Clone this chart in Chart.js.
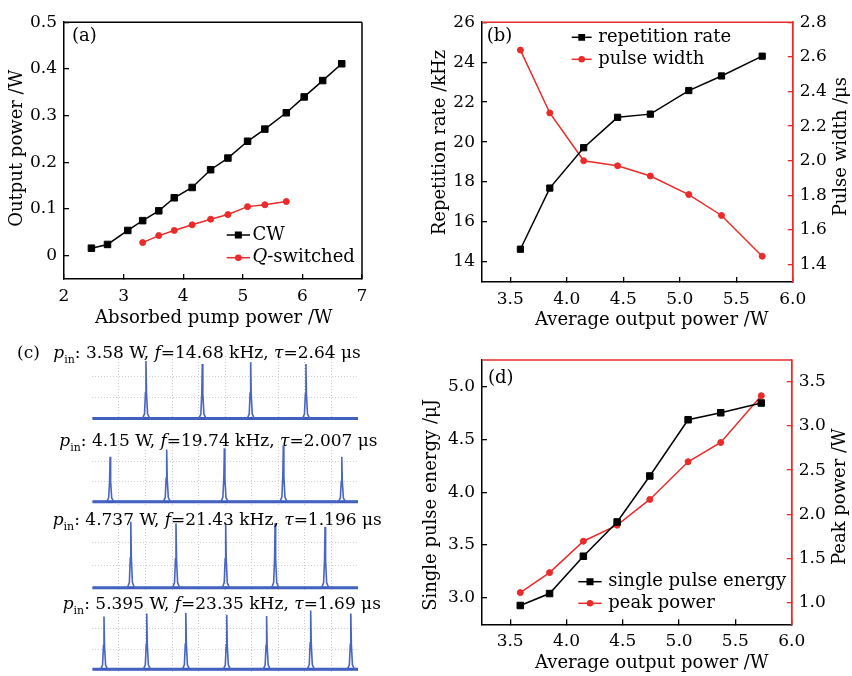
<!DOCTYPE html>
<html>
<head>
<meta charset="utf-8">
<script src="https://cdn.jsdelivr.net/npm/chart.js@4.4.1/dist/chart.umd.min.js"></script>
<style>
  body { margin: 0; background: #fff; }
  #wrap { position: relative; width: 852px; height: 676px; overflow: hidden; font-family: "DejaVu Serif", serif; }
  #wrap canvas { position: absolute; left: 0; top: 0; }
  .hdr { position: absolute; font-size: 17px; line-height: 20px; white-space: nowrap; color: #000; }
  .hdr sub { font-size: 11px; vertical-align: baseline; position: relative; top: 5px; font-style: normal; }
</style>
</head>
<body>
<div id="wrap"></div>
<script>
// (a) output power vs absorbed pump power
const pumpCW = [2.46, 2.73, 3.07, 3.32, 3.59, 3.85, 4.15, 4.46, 4.75, 5.08, 5.37, 5.73, 6.03, 6.34, 6.66];
const outCW = [0.016, 0.024, 0.054, 0.075, 0.096, 0.124, 0.146, 0.184, 0.209, 0.245, 0.271, 0.306, 0.340, 0.375, 0.411];
const pumpQ = [3.32, 3.59, 3.85, 4.15, 4.46, 4.75, 5.08, 5.37, 5.73];
const outQ = [0.028, 0.043, 0.054, 0.066, 0.078, 0.088, 0.105, 0.109, 0.116];

// (b) and (d) share the x values
const avgPower = [3.59, 3.85, 4.15, 4.45, 4.74, 5.08, 5.37, 5.73];
const repRate = [14.64, 17.70, 19.72, 21.24, 21.40, 22.58, 23.31, 24.30];
const pulseWidth = [2.639, 2.276, 2.000, 1.971, 1.912, 1.805, 1.684, 1.449];
const pulseEnergy = [2.928, 3.041, 3.394, 3.718, 4.153, 4.685, 4.751, 4.843];
const peakPower = [1.110, 1.337, 1.693, 1.875, 2.167, 2.595, 2.814, 3.345];

// tick labels
const ticksPump = [2, 3, 4, 5, 6, 7];
const ticksOut = [0, 0.1, 0.2, 0.3, 0.4, 0.5];
const ticksAvg = [3.5, 4.0, 4.5, 5.0, 5.5, 6.0];
const ticksRate = [14, 16, 18, 20, 22, 24, 26];
const ticksWidth = [1.4, 1.6, 1.8, 2.0, 2.2, 2.4, 2.6, 2.8];
const ticksEnergy = [3.0, 3.5, 4.0, 4.5, 5.0];
const ticksPeak = [1.0, 1.5, 2.0, 2.5, 3.0, 3.5];

// (c) oscilloscope traces: pulse positions (% of screen) and relative heights
const trace1Peaks = [20.2, 41.4, 59.6, 80.4];
const trace1Heights = [0.92, 0.87, 0.90, 0.87];
const trace2Peaks = [6.7, 28.0, 49.7, 71.9, 93.9];
const trace2Heights = [0.74, 0.86, 0.88, 0.93, 0.74];
const trace3Peaks = [14.5, 31.5, 50.2, 68.8, 87.6];
const trace3Heights = [0.975, 0.95, 0.95, 0.95, 0.90];
const trace4Peaks = [4.4, 20.5, 35.2, 50.6, 65.6, 82.2, 97.3];
const trace4Heights = [0.86, 0.91, 0.92, 0.89, 0.87, 0.96, 0.91];
const tracePin = ['3.58', '4.15', '4.737', '5.395'];
const traceF = ['14.68', '19.74', '21.43', '23.35'];
const traceTau = ['2.64', '2.007', '1.196', '1.69'];
// shape of one pulse: [offset, fraction of peak]
const pulseShape = [[-1.3, 0], [-0.55, 0.08], [-0.2, 0.45], [0, 1], [0.2, 0.45], [0.6, 0.08], [1.4, 0]];
const scopeGrid = [10, 20, 30, 40, 50, 60, 70, 80, 90];
const scopeGridY = [0.33, 0.67];

const RED = '#eb2a2a';
const W = 852, H = 676;
const FONT = '"DejaVu Serif", serif';

Chart.defaults.font.family = FONT;
Chart.defaults.color = '#000';
Chart.defaults.animation = false;
Chart.defaults.plugins.legend.display = false;
Chart.defaults.plugins.tooltip.enabled = false;

const wrap = document.getElementById('wrap');
function makeCtx() {
  const c = document.createElement('canvas');
  c.width = W; c.height = H;
  wrap.appendChild(c);
  return c.getContext('2d');
}
function pts(xs, ys) {
  return xs.map((x, i) => ({x: x, y: ys[i]}));
}

function sideAxis(pos, min, max, values, digits, size, color) {
  return {
    type: 'linear', position: pos, min: min, max: max, bounds: 'data',
    afterBuildTicks: s => { s.ticks = values.map(v => ({value: v})); },
    afterFit: s => { if (pos === 'bottom') s.height = size; else s.width = size; },
    border: {color: color, width: 1.5},
    grid: {drawOnChartArea: false, tickLength: -5, color: color, lineWidth: 1.3},
    ticks: {
      font: {size: 17}, color: '#000', padding: 12, autoSkip: false, maxRotation: 0,
      callback: v => v === 0 ? '0' : (digits < 0 ? String(v) : v.toFixed(digits))
    }
  };
}

// top / right edges of the plot box
const framePlugin = {
  id: 'frame',
  afterDraw(chart, args, o) {
    const a = chart.chartArea, ctx = chart.ctx;
    ctx.save();
    ctx.lineWidth = 1.5;
    ctx.strokeStyle = o.top;
    ctx.beginPath(); ctx.moveTo(a.left, a.top); ctx.lineTo(a.right, a.top); ctx.stroke();
    ctx.strokeStyle = o.right;
    ctx.beginPath(); ctx.moveTo(a.right, a.top); ctx.lineTo(a.right, a.bottom); ctx.stroke();
    ctx.restore();
  }
};

// label text, parts between | are italic
function drawRich(ctx, label, x, y) {
  label.split('|').forEach((part, i) => {
    ctx.font = (i % 2 ? 'italic ' : '') + '18px ' + FONT;
    ctx.fillText(part, x, y);
    x += ctx.measureText(part).width;
  });
}

const keyPlugin = {
  id: 'key',
  afterDraw(chart, args, o) {
    const ctx = chart.ctx;
    chart.data.datasets.forEach((ds, i) => {
      const y = o.y + i * o.dy;
      ctx.save();
      ctx.strokeStyle = ds.borderColor;
      ctx.fillStyle = ds.backgroundColor;
      ctx.lineWidth = ds.borderWidth;
      ctx.beginPath(); ctx.moveTo(o.x, y); ctx.lineTo(o.x + o.len, y); ctx.stroke();
      Chart.helpers.drawPoint(ctx, {pointStyle: ds.pointStyle, radius: ds.pointRadius * 0.85, rotation: 0, borderWidth: 1}, o.x + o.len / 2, y);
      ctx.fillStyle = '#000';
      ctx.textAlign = 'left';
      ctx.textBaseline = 'middle';
      drawRich(ctx, ds.label, o.textX, y);
      ctx.restore();
    });
  }
};

const textPlugin = {
  id: 'texts',
  afterDraw(chart, args, o) {
    const ctx = chart.ctx;
    o.items.forEach(t => {
      ctx.save();
      ctx.translate(t.x, t.y);
      if (t.rot) ctx.rotate(t.rot * Math.PI / 180);
      ctx.font = '18px ' + FONT;
      ctx.fillStyle = '#000';
      ctx.textAlign = t.align || 'center';
      ctx.textBaseline = 'middle';
      ctx.fillText(t.text, 0, 0);
      ctx.restore();
    });
  }
};

function lineSet(label, data, color, style, radius, axis) {
  return {
    label: label, data: data, yAxisID: axis || 'y',
    borderColor: color, backgroundColor: color, borderWidth: 1.5,
    pointStyle: style, pointRadius: radius, pointBorderWidth: 1, tension: 0
  };
}

// (a)
new Chart(makeCtx(), {
  type: 'line',
  data: {datasets: [
    lineSet('CW', pts(pumpCW, outCW), '#000', 'rect', 4.6),
    lineSet('|Q|-switched', pts(pumpQ, outQ), RED, 'circle', 3)
  ]},
  options: {
    responsive: false, devicePixelRatio: 1,
    layout: {padding: {left: 0, top: 17, right: W - 362, bottom: H - 279 - 51}},
    scales: {
      x: sideAxis('bottom', 2, 7, ticksPump, 0, 51, '#000'),
      y: sideAxis('left', -0.05, 0.5, ticksOut, -1, 64, '#000')
    },
    plugins: {
      frame: {top: '#000', right: '#000'},
      key: {x: 226.7, y: 235, dy: 22.7, len: 23.3, textX: 252.5},
      texts: {items: [
        {text: 'Output power /W', x: 17, y: 148.3, rot: -90},
        {text: 'Absorbed pump power /W', x: 213.8, y: 318},
        {text: '(a)', x: 72, y: 36, align: 'left'}
      ]}
    }
  },
  plugins: [framePlugin, keyPlugin, textPlugin]
});

// (b)
new Chart(makeCtx(), {
  type: 'line',
  data: {datasets: [
    lineSet('repetition rate', pts(avgPower, repRate), '#000', 'rect', 4.4),
    lineSet('pulse width', pts(avgPower, pulseWidth), RED, 'circle', 3, 'y2')
  ]},
  options: {
    responsive: false, devicePixelRatio: 1,
    layout: {padding: {left: 420, top: 19, right: W - 792.7 - 59, bottom: H - 282 - 40}},
    scales: {
      x: sideAxis('bottom', 3.25, 6.0, ticksAvg, 1, 40, '#000'),
      y: sideAxis('left', 13, 26, ticksRate, 0, 62, '#000'),
      y2: sideAxis('right', 1.3, 2.8, ticksWidth, 1, 59, RED)
    },
    plugins: {
      frame: {top: RED, right: RED},
      key: {x: 571.7, y: 37.3, dy: 22, len: 20, textX: 598.3},
      texts: {items: [
        {text: 'Repetition rate /kHz', x: 440.7, y: 142.5, rot: -90},
        {text: 'Pulse width /\u03bcs', x: 841.7, y: 146.7, rot: -90},
        {text: 'Average output power /W', x: 651.7, y: 320},
        {text: '(b)', x: 486.7, y: 36, align: 'left'}
      ]}
    }
  },
  plugins: [framePlugin, keyPlugin, textPlugin]
});

// (d)
new Chart(makeCtx(), {
  type: 'line',
  data: {datasets: [
    lineSet('single pulse energy', pts(avgPower, pulseEnergy), '#000', 'rect', 4.6),
    lineSet('peak power', pts(avgPower, peakPower), RED, 'circle', 3, 'y2')
  ]},
  options: {
    responsive: false, devicePixelRatio: 1,
    layout: {padding: {left: 420, top: 360, right: W - 791.7 - 60, bottom: H - 624.3 - 40}},
    scales: {
      x: sideAxis('bottom', 3.25, 6.0, ticksAvg, 1, 40, '#000'),
      y: sideAxis('left', 2.75, 5.25, ticksEnergy, 1, 62, '#000'),
      y2: sideAxis('right', 0.75, 3.75, ticksPeak, 1, 60, RED)
    },
    plugins: {
      frame: {top: RED, right: RED},
      key: {x: 578.3, y: 581.7, dy: 21.6, len: 23.4, textX: 608.3},
      texts: {items: [
        {text: 'Single pulse energy /\u03bcJ', x: 431.7, y: 505, rot: -90},
        {text: 'Peak power /W', x: 840.7, y: 496.7, rot: -90},
        {text: 'Average output power /W', x: 651.7, y: 663.3},
        {text: '(d)', x: 488, y: 378, align: 'left'}
      ]}
    }
  },
  plugins: [framePlugin, keyPlugin, textPlugin]
});

// (c) four oscilloscope traces
const traces = [
  {peaks: trace1Peaks, heights: trace1Heights, top: 356, bottom: 421.6},
  {peaks: trace2Peaks, heights: trace2Heights, top: 441, bottom: 504.7},
  {peaks: trace3Peaks, heights: trace3Heights, top: 520, bottom: 591.1},
  {peaks: trace4Peaks, heights: trace4Heights, top: 608, bottom: 672.4}
];
const hdrLeft = [53.3, 59.3, 52.7, 62.7];
const hdrMid = [351.7, 440, 519.3, 603.3];

function scopeAxis(values, isX) {
  return {
    type: 'linear', min: isX ? 0 : -0.05, max: isX ? 100 : 1, bounds: 'data',
    afterBuildTicks: s => { s.ticks = values.map(v => ({value: v})); },
    afterFit: s => { if (isX) s.height = 0; else s.width = 0; },
    ticks: {display: false},
    border: {display: false, dash: [1, 2]},
    grid: {drawTicks: false, color: '#cdcdcd', lineWidth: 1}
  };
}

traces.forEach((t, i) => {
  const line = [{x: 0, y: 0}];
  t.peaks.forEach((p, k) => {
    pulseShape.forEach(s => line.push({x: p + s[0], y: s[1] * t.heights[k]}));
  });
  line.push({x: 100, y: 0});
  new Chart(makeCtx(), {
    type: 'line',
    data: {datasets: [
      {data: line, borderColor: '#4865c2', borderWidth: 1.6, pointRadius: 0, tension: 0},
      {data: [{x: 0, y: 0}, {x: 100, y: 0}], borderColor: '#3a5bbb', borderWidth: 3, pointRadius: 0}
    ]},
    options: {
      responsive: false, devicePixelRatio: 1,
      layout: {padding: {left: 92.3, right: W - 358, top: t.top, bottom: H - t.bottom}},
      scales: {x: scopeAxis(scopeGrid, true), y: scopeAxis(scopeGridY, false)}
    }
  });

  const d = document.createElement('div');
  d.className = 'hdr';
  d.style.left = hdrLeft[i] + 'px';
  d.style.top = (hdrMid[i] - 10) + 'px';
  d.innerHTML = '<i>p</i><sub>in</sub>: ' + tracePin[i] + ' W, <i>f</i>=' + traceF[i] +
    ' kHz, <i>\u03c4</i>=' + traceTau[i] + ' \u03bcs';
  wrap.appendChild(d);
});

const c = document.createElement('div');
c.className = 'hdr';
c.style.left = '17px';
c.style.top = (hdrMid[0] - 10) + 'px';
c.textContent = '(c)';
wrap.appendChild(c);
</script>
</body>
</html>
